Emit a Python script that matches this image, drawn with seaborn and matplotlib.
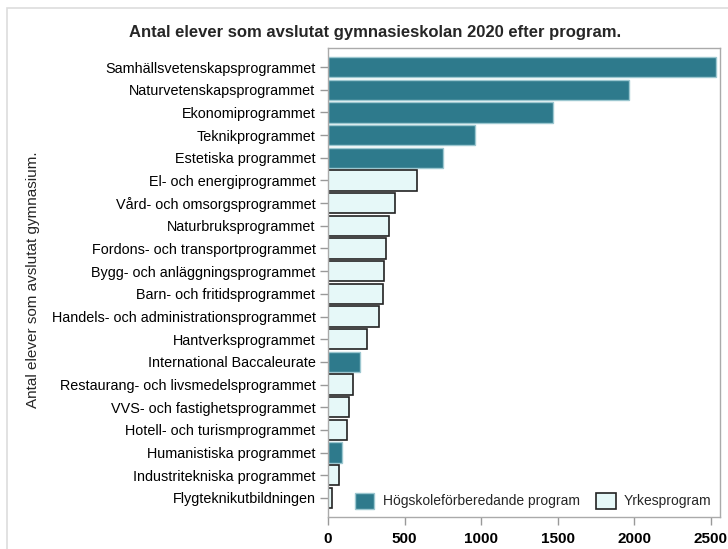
import pandas as pd
import matplotlib
matplotlib.use("Agg")
import matplotlib.pyplot as plt
from matplotlib.patches import Rectangle
import seaborn as sns

programs = [
    "Samhällsvetenskapsprogrammet",
    "Naturvetenskapsprogrammet",
    "Ekonomiprogrammet",
    "Teknikprogrammet",
    "Estetiska programmet",
    "El- och energiprogrammet",
    "Vård- och omsorgsprogrammet",
    "Naturbruksprogrammet",
    "Fordons- och transportprogrammet",
    "Bygg- och anläggningsprogrammet",
    "Barn- och fritidsprogrammet",
    "Handels- och administrationsprogrammet",
    "Hantverksprogrammet",
    "International Baccaleurate",
    "Restaurang- och livsmedelsprogrammet",
    "VVS- och fastighetsprogrammet",
    "Hotell- och turismprogrammet",
    "Humanistiska programmet",
    "Industritekniska programmet",
    "Flygteknikutbildningen",
]
counts = [2533, 1965, 1471, 957, 748, 583, 440, 400, 379, 366,
          359, 331, 252, 209, 163, 139, 126, 93, 72, 28]
H = "Högskoleförberedande program"
Y = "Yrkesprogram"
types = [H, H, H, H, H, Y, Y, Y, Y, Y,
         Y, Y, Y, H, Y, Y, Y, H, Y, Y]

df = pd.DataFrame({"program": programs, "antal": counts, "typ": types})

sns.set_theme(style="white")
plt.rcParams["font.family"] = ["Liberation Sans", "DejaVu Sans"]

teal = "#2E7A8C"
light = "#E6F8F8"

fig = plt.figure(figsize=(7.28, 5.49), dpi=100)
ax = fig.add_axes([328 / 728, 1 - 517 / 549, 392 / 728, 469 / 549])

# outer frame (cut off at right/bottom like the reference)
fig.patches.append(Rectangle((7 / 728, -0.1), 1.2, 1 - 8 / 549 + 0.1,
                             transform=fig.transFigure, fill=False,
                             edgecolor="#DDDDDD", linewidth=1.2))

ax.set_axisbelow(True)
ax.grid(axis="y", color="#E6E6E6", linewidth=1)
sns.barplot(data=df, y="program", x="antal", hue="typ", hue_order=[H, Y],
            palette={H: teal, Y: light}, dodge=False, width=0.9,
            saturation=1, orient="h", legend=False, ax=ax)

for cont, ec, lw in zip(ax.containers, ["#9CC7D0", "#222222"], [1.0, 1.2]):
    for p in cont:
        p.set_edgecolor(ec)
        p.set_linewidth(lw)

ax.set_xlim(0, 2560)
ax.set_ylim(len(programs) - 1 + 0.84, -0.84)
ax.set_xticks([0, 500, 1000, 1500, 2000, 2500])
ax.set_xlabel("")
ax.set_ylabel("")

for s in ax.spines.values():
    s.set_color("#AAAAAA")
    s.set_linewidth(1)

ax.tick_params(axis="both", which="both", length=6, width=1, color="#999999",
               bottom=True, left=True)
ax.tick_params(axis="y", labelsize=10.4, pad=3, labelcolor="#000000")
ax.tick_params(axis="x", labelsize=11, pad=5, labelcolor="#000000")
for lab in ax.get_xticklabels():
    lab.set_fontweight("bold")

ax.legend(ax.containers, [H, Y], loc="lower right", ncol=2, frameon=False,
          fontsize=10, handlelength=1.4, handleheight=1.4, columnspacing=1.2,
          handletextpad=0.6, borderaxespad=0.2)

fig.text(375 / 728, 1 - 32 / 549,
         "Antal elever som avslutat gymnasieskolan 2020 efter program.",
         ha="center", va="center", fontsize=12, fontweight="bold")
fig.text(33 / 728, 1 - 280 / 549, "Antal elever som avslutat gymnasium.",
         ha="center", va="center", rotation=90, fontsize=11)

fig.savefig("out.png", dpi=100)
